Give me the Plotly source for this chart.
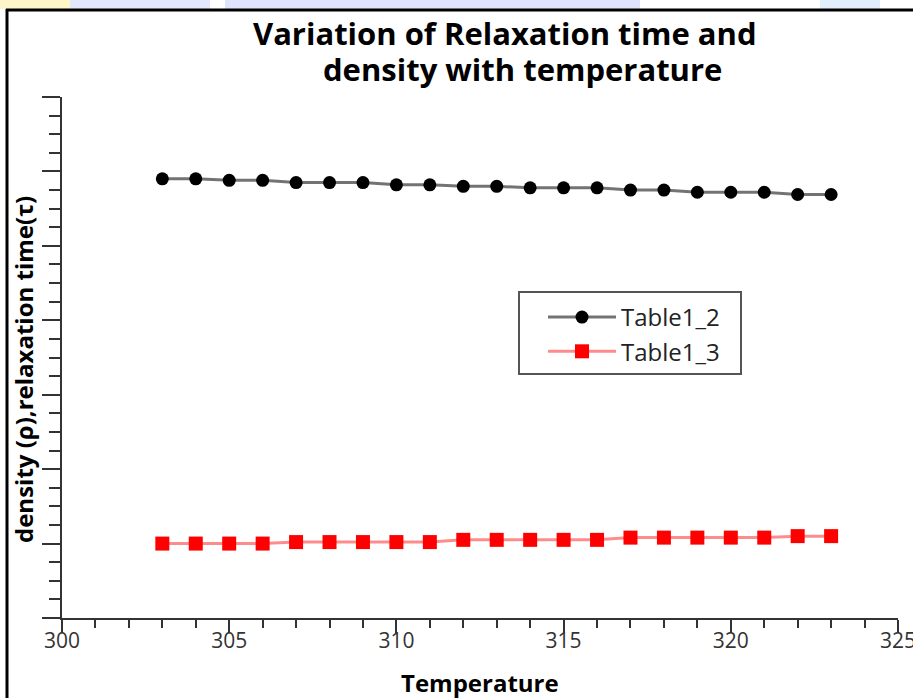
import plotly.graph_objects as go

temperature = [303, 304, 305, 306, 307, 308, 309, 310, 311, 312, 313,
               314, 315, 316, 317, 318, 319, 320, 321, 322, 323]
table1_2 = [5.90, 5.90, 5.88, 5.88, 5.85, 5.85, 5.85, 5.82, 5.82, 5.80, 5.80,
            5.78, 5.78, 5.78, 5.75, 5.75, 5.72, 5.72, 5.72, 5.69, 5.69]
table1_3 = [1.00, 1.00, 1.00, 1.00, 1.02, 1.02, 1.02, 1.02, 1.02, 1.05, 1.05,
            1.05, 1.05, 1.05, 1.08, 1.08, 1.08, 1.08, 1.08, 1.10, 1.10]
x_ticks = [300, 305, 310, 315, 320, 325]

W, H = 913, 698
L, R, T, B = 62, 15, 97, 80
pw = W - L - R
ph = H - T - B


def px(xp):
    return (xp - L) / pw


def py(yp):
    return (H - B - yp) / ph


fig = go.Figure()
fig.add_trace(go.Scatter(
    x=temperature, y=table1_2, name="Table1_2", mode="lines+markers",
    line=dict(color="rgba(0,0,0,0.55)", width=3),
    marker=dict(symbol="circle", size=13, color="black"),
))
fig.add_trace(go.Scatter(
    x=temperature, y=table1_3, name="Table1_3", mode="lines+markers",
    line=dict(color="rgba(255,0,0,0.45)", width=3),
    marker=dict(symbol="square", size=14, color="red"),
))

axis_font = "Open Sans"

fig.update_layout(
    width=W, height=H,
    margin=dict(l=L, r=R, t=T, b=B, autoexpand=False),
    paper_bgcolor="white", plot_bgcolor="white",
    showlegend=True,
    legend=dict(
        x=px(543), y=py(295), xanchor="left", yanchor="top",
        borderwidth=0, bgcolor="rgba(0,0,0,0)",
        font=dict(family=axis_font, size=24, color="#222222"),
        itemwidth=68, tracegroupgap=0,
    ),
    xaxis=dict(
        range=[300, 325], tickvals=x_ticks, ticktext=[str(v) for v in x_ticks],
        showgrid=False, zeroline=False, automargin=False,
        showline=True, linecolor="#333333", linewidth=2,
        ticks="outside", ticklen=13, tickwidth=1.5, tickcolor="#333333",
        minor=dict(dtick=1, ticks="outside", ticklen=8, tickwidth=1.5, tickcolor="#333333", showgrid=False),
        tickfont=dict(family=axis_font, size=21, color="#333333"),
        ticklabeloverflow="allow", ticklabelstandoff=-10,
    ),
    yaxis=dict(
        range=[0, 7], dtick=1, showticklabels=False, automargin=False,
        showgrid=False, zeroline=False,
        showline=True, linecolor="#333333", linewidth=2,
        ticks="outside", ticklen=18, tickwidth=1.5, tickcolor="#333333",
        minor=dict(dtick=0.25, ticks="outside", ticklen=11, tickwidth=1.5, tickcolor="#333333", showgrid=False),
    ),
    annotations=[
        dict(text="<b>Variation of Relaxation time and</b>", xref="paper", yref="paper",
             x=px(505), y=py(33), xanchor="center", yanchor="middle",
             showarrow=False, font=dict(family=axis_font, size=31, color="black")),
        dict(text="<b>density with temperature</b>", xref="paper", yref="paper",
             x=px(522), y=py(69), xanchor="center", yanchor="middle",
             showarrow=False, font=dict(family=axis_font, size=31, color="black")),
        dict(text="<b>density (ρ),relaxation time(τ)</b>", xref="paper", yref="paper",
             x=px(23), y=py(370), xanchor="center", yanchor="middle",
             textangle=-90, showarrow=False,
             font=dict(family=axis_font, size=24, color="black")),
        dict(text="<b>Temperature</b>", xref="paper", yref="paper",
             x=px(480), y=py(682), xanchor="center", yanchor="middle",
             showarrow=False, font=dict(family=axis_font, size=24, color="black")),
    ],
    shapes=[
        dict(type="rect", xref="paper", yref="paper",
             x0=px(0), x1=px(70), y0=py(0), y1=py(9),
             fillcolor="#fdf6c8", line=dict(width=0), layer="below"),
        dict(type="rect", xref="paper", yref="paper",
             x0=px(70), x1=px(210), y0=py(0), y1=py(9),
             fillcolor="#e4e6fb", line=dict(width=0), layer="below"),
        dict(type="rect", xref="paper", yref="paper",
             x0=px(225), x1=px(640), y0=py(0), y1=py(9),
             fillcolor="#dfe3fb", line=dict(width=0), layer="below"),
        dict(type="rect", xref="paper", yref="paper",
             x0=px(820), x1=px(880), y0=py(0), y1=py(9),
             fillcolor="#e3eefc", line=dict(width=0), layer="below"),
        dict(type="line", xref="paper", yref="paper",
             x0=px(7), x1=px(7), y0=py(9), y1=py(698),
             line=dict(color="black", width=3)),
        dict(type="line", xref="paper", yref="paper",
             x0=px(6), x1=px(913), y0=py(10), y1=py(10),
             line=dict(color="black", width=3)),
        dict(type="rect", xref="paper", yref="paper",
             x0=px(519), x1=px(741), y0=py(292), y1=py(374),
             line=dict(color="#555555", width=2), fillcolor="rgba(0,0,0,0)"),
    ],
)

fig.write_html("out.html")
